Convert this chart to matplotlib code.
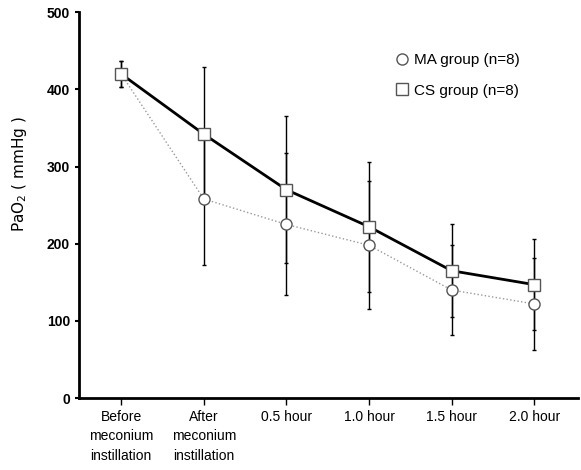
import matplotlib
matplotlib.use("Agg")
import matplotlib.pyplot as plt
import numpy as np

plt.rcParams['font.family'] = ['Liberation Sans Narrow', 'Liberation Sans', 'DejaVu Sans']

labels = ['Before\nmeconium\ninstillation', 'After\nmeconium\ninstillation',
          '0.5 hour', '1.0 hour', '1.5 hour', '2.0 hour']
ma_mean = [420, 258, 225, 198, 140, 122]
ma_sd = [17, 85, 92, 83, 58, 60]
cs_mean = [420, 342, 270, 222, 165, 147]
cs_sd = [17, 87, 95, 84, 60, 59]

x = np.arange(len(labels))

fig = plt.figure(figsize=(5.81, 4.70), dpi=100)
ax = fig.add_axes([0.136, 0.153, 0.859, 0.821])

ax.errorbar(x, ma_mean, yerr=ma_sd, fmt='none', ecolor='black', elinewidth=1,
            capsize=1.5, capthick=1, zorder=2)
ax.errorbar(x, cs_mean, yerr=cs_sd, fmt='none', ecolor='black', elinewidth=1,
            capsize=1.5, capthick=1, zorder=2)
ax.plot(x, ma_mean, color='#999999', lw=1, ls=':', zorder=3)
ax.plot(x, cs_mean, color='black', lw=2, zorder=3)
ax.plot(x, ma_mean, ls='none', marker='o', ms=8, mfc='white', mec='#555555',
        mew=1, zorder=4, label='MA group (n=8)')
ax.plot(x, cs_mean, ls='none', marker='s', ms=8, mfc='white', mec='#555555',
        mew=1, zorder=5, label='CS group (n=8)')

ax.set_xlim(-0.51, 5.53)
ax.set_ylim(0, 500)
ax.set_yticks([0, 100, 200, 300, 400, 500])
ax.set_xticks(x)
ax.set_xticklabels(labels, fontsize=10, linespacing=1.5)
ax.tick_params(axis='y', labelsize=10, direction='out', length=3, width=1.5)
ax.tick_params(axis='x', direction='out', length=5, width=1)
for lab in ax.get_yticklabels():
    lab.set_fontweight('bold')
ax.spines['top'].set_visible(False)
ax.spines['right'].set_visible(False)
ax.spines['left'].set_linewidth(2)
ax.spines['bottom'].set_linewidth(2)
ax.set_ylabel('PaO$_2$ ( mmHg )', fontsize=11, family='DejaVu Sans')
ax.yaxis.set_label_coords(-0.10, 0.58)

ax.legend(loc='upper left', bbox_to_anchor=(0.61, 0.93), frameon=False,
          fontsize=11, handlelength=0.6, handletextpad=0.5, labelspacing=1.1)

fig.savefig('out.png', dpi=100)
